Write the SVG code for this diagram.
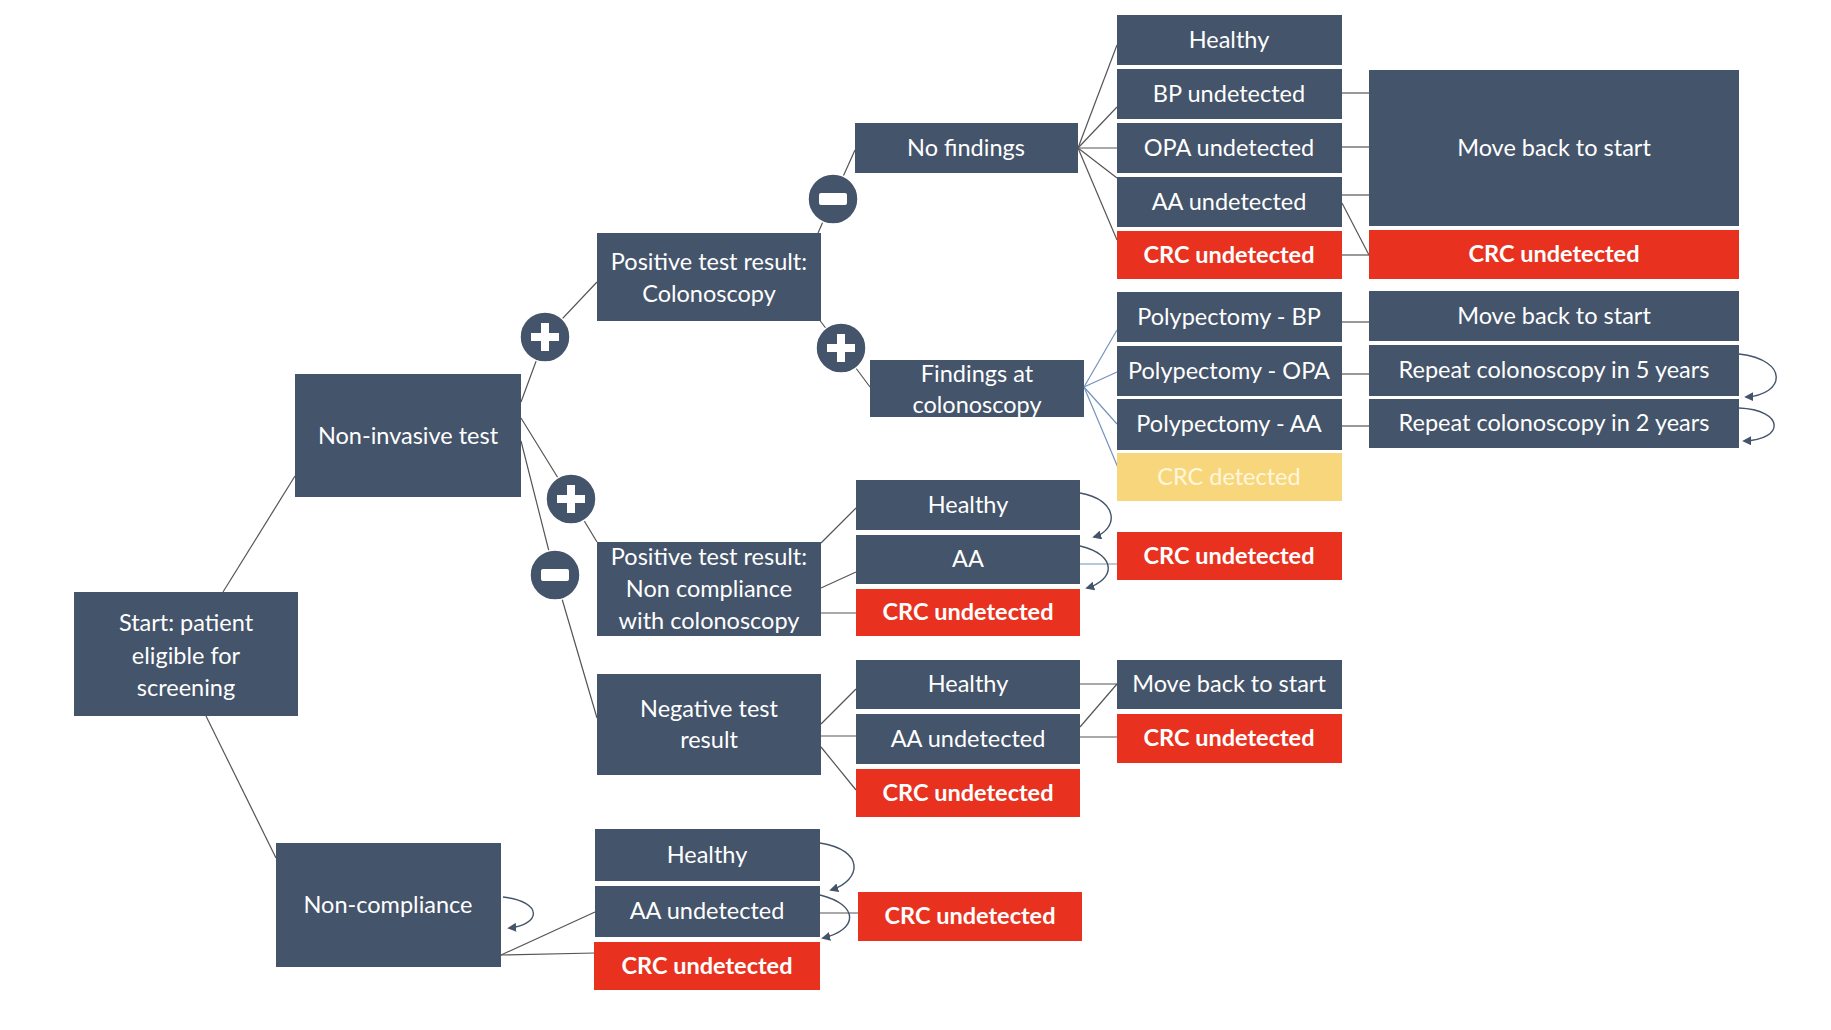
<svg xmlns="http://www.w3.org/2000/svg" width="1831" height="1030" viewBox="0 0 1831 1030">
<style>
.n{fill:#44546A}
.r{fill:#E8321F}
.y{fill:#F8D77C}
.t{font-family:Lato,"Open Sans","Liberation Sans",sans-serif;font-size:23.5px;fill:#fff;text-anchor:middle}
.b{font-weight:bold}
.ty{fill:#FFF6DC}
.c{stroke:#555;stroke-width:1.2;fill:none}
.cb{stroke:#7393BC;stroke-width:1.2;fill:none}
.lp{stroke:#44546A;stroke-width:1.4;fill:none;marker-end:url(#ah)}
.circ{fill:#44546A;stroke:#fff;stroke-width:1.5}
.sym{fill:#fff}
</style>
<defs>
<marker id="ah" viewBox="0 0 10 10" refX="8" refY="5" markerWidth="9" markerHeight="9" orient="auto" markerUnits="userSpaceOnUse">
<path d="M0,0 L10,5 L0,10 z" fill="#44546A"/>
</marker>
</defs>
<rect width="1831" height="1030" fill="#fff"/>
<g id="connectors">
<line class="c" x1="223" y1="592" x2="295" y2="476"/>
<line class="c" x1="206" y1="716" x2="276" y2="858"/>
<polyline class="c" points="521,402 545,337 597,282"/>
<polyline class="c" points="521,418 571,499 597,542"/>
<polyline class="c" points="521,441 555,575 597,718"/>
<polyline class="c" points="818,233 833,199 855,150"/>
<polyline class="c" points="818,318 841,348 870,387"/>
<line class="c" x1="1078" y1="148" x2="1117" y2="45"/>
<line class="c" x1="1078" y1="148" x2="1117" y2="107"/>
<line class="c" x1="1078" y1="148" x2="1117" y2="148"/>
<line class="c" x1="1078" y1="148" x2="1117" y2="178"/>
<line class="c" x1="1078" y1="148" x2="1117" y2="240"/>
<line class="cb" x1="1084" y1="387" x2="1117" y2="330"/>
<line class="cb" x1="1084" y1="387" x2="1117" y2="372"/>
<line class="cb" x1="1084" y1="387" x2="1117" y2="424"/>
<line class="cb" x1="1084" y1="387" x2="1119" y2="470"/>
<line class="c" x1="1342" y1="93" x2="1369" y2="93"/>
<line class="c" x1="1342" y1="147" x2="1369" y2="147"/>
<line class="c" x1="1342" y1="195" x2="1369" y2="195"/>
<line class="c" x1="1342" y1="203" x2="1369" y2="255"/>
<line class="c" x1="1342" y1="255" x2="1369" y2="255"/>
<line class="c" x1="1342" y1="322" x2="1369" y2="322"/>
<line class="c" x1="1342" y1="374" x2="1369" y2="374"/>
<line class="c" x1="1342" y1="426" x2="1369" y2="426"/>
<line class="c" x1="821" y1="543" x2="856" y2="508"/>
<line class="c" x1="821" y1="588" x2="856" y2="572"/>
<line class="c" x1="821" y1="613" x2="856" y2="613"/>
<line class="cb" x1="1080" y1="564" x2="1117" y2="564"/>
<line class="c" x1="821" y1="724" x2="856" y2="689"/>
<line class="c" x1="821" y1="736" x2="856" y2="736"/>
<line class="c" x1="821" y1="747" x2="856" y2="790"/>
<line class="c" x1="1080" y1="684" x2="1117" y2="684"/>
<line class="c" x1="1080" y1="727" x2="1117" y2="684"/>
<line class="c" x1="1080" y1="737" x2="1117" y2="737"/>
<line class="c" x1="501" y1="955" x2="595" y2="912"/>
<line class="c" x1="501" y1="955" x2="595" y2="953"/>
<line class="c" x1="820" y1="913" x2="858" y2="913"/>
<path class="lp" d="M1739,354 C1790,360 1785,395 1746,397"/>
<path class="lp" d="M1739,408 C1785,410 1785,440 1744,441"/>
<path class="lp" d="M1080,493 C1120,500 1118,530 1094,537"/>
<path class="lp" d="M1080,546 C1118,555 1115,580 1087,588"/>
<path class="lp" d="M503,897 C545,902 540,925 509,928"/>
<path class="lp" d="M820,843 C865,850 862,880 831,890"/>
<path class="lp" d="M820,895 C860,905 858,930 823,938"/>
</g>
<g id="signs">
<g id="plus1"><circle class="circ" cx="545" cy="337" r="25"/><rect class="sym" x="531" y="333" width="28" height="8"/><rect class="sym" x="541" y="323" width="8" height="28"/></g>
<g id="minus1"><circle class="circ" cx="833" cy="199" r="25"/><rect class="sym" x="819" y="193" width="28" height="12" rx="2"/></g>
<g id="plus2"><circle class="circ" cx="841" cy="348" r="25"/><rect class="sym" x="827" y="344" width="28" height="8"/><rect class="sym" x="837" y="334" width="8" height="28"/></g>
<g id="plus3"><circle class="circ" cx="571" cy="499" r="25"/><rect class="sym" x="557" y="495" width="28" height="8"/><rect class="sym" x="567" y="485" width="8" height="28"/></g>
<g id="minus2"><circle class="circ" cx="555" cy="575" r="25"/><rect class="sym" x="541" y="569" width="28" height="12" rx="2"/></g>
</g>
<g id="start"><rect class="n" x="74" y="592" width="224" height="124"/><text class="t" x="186" y="631">Start: patient</text><text class="t" x="186" y="664">eligible for</text><text class="t" x="186" y="696">screening</text></g>
<g id="noninvasive"><rect class="n" x="295" y="374" width="226" height="123"/><text class="t" x="408" y="444">Non-invasive test</text></g>
<g id="noncompliance"><rect class="n" x="276" y="843" width="225" height="124"/><text class="t" x="388" y="913">Non-compliance</text></g>
<g id="poscol"><rect class="n" x="597" y="233" width="224" height="88"/><text class="t" x="709" y="270">Positive test result:</text><text class="t" x="709" y="302">Colonoscopy</text></g>
<g id="posnc"><rect class="n" x="597" y="542" width="224" height="94"/><text class="t" x="709" y="565">Positive test result:</text><text class="t" x="709" y="597">Non compliance</text><text class="t" x="709" y="629">with colonoscopy</text></g>
<g id="negative"><rect class="n" x="597" y="674" width="224" height="101"/><text class="t" x="709" y="717">Negative test</text><text class="t" x="709" y="748">result</text></g>
<g id="nofindings"><rect class="n" x="855" y="123" width="223" height="50"/><text class="t" x="966" y="156">No findings</text></g>
<g id="findings"><rect class="n" x="870" y="360" width="214" height="57"/><text class="t" x="977" y="382">Findings at</text><text class="t" x="977" y="413">colonoscopy</text></g>
<g id="healthy1"><rect class="n" x="1117" y="15" width="225" height="50"/><text class="t" x="1229" y="48">Healthy</text></g>
<g id="bp"><rect class="n" x="1117" y="69" width="225" height="50"/><text class="t" x="1229" y="102">BP undetected</text></g>
<g id="opa"><rect class="n" x="1117" y="123" width="225" height="50"/><text class="t" x="1229" y="156">OPA undetected</text></g>
<g id="aa1"><rect class="n" x="1117" y="177" width="225" height="50"/><text class="t" x="1229" y="210">AA undetected</text></g>
<g id="crc1"><rect class="r" x="1117" y="231" width="225" height="48"/><text class="t b" x="1229" y="263">CRC undetected</text></g>
<g id="pbp"><rect class="n" x="1117" y="292" width="225" height="50"/><text class="t" x="1229" y="325">Polypectomy - BP</text></g>
<g id="popa"><rect class="n" x="1117" y="346" width="225" height="50"/><text class="t" x="1229" y="379">Polypectomy - OPA</text></g>
<g id="paa"><rect class="n" x="1117" y="399" width="225" height="51"/><text class="t" x="1229" y="432">Polypectomy - AA</text></g>
<g id="crcdet"><rect class="y" x="1117" y="453" width="225" height="48"/><text class="t ty" x="1229" y="485">CRC detected</text></g>
<g id="crc2"><rect class="r" x="1117" y="532" width="225" height="48"/><text class="t b" x="1229" y="564">CRC undetected</text></g>
<g id="mbs3"><rect class="n" x="1117" y="660" width="225" height="49"/><text class="t" x="1229" y="692">Move back to start</text></g>
<g id="crc3"><rect class="r" x="1117" y="714" width="225" height="49"/><text class="t b" x="1229" y="746">CRC undetected</text></g>
<g id="healthy2"><rect class="n" x="856" y="480" width="224" height="50"/><text class="t" x="968" y="513">Healthy</text></g>
<g id="aa2"><rect class="n" x="856" y="535" width="224" height="49"/><text class="t" x="968" y="567">AA</text></g>
<g id="crc4"><rect class="r" x="856" y="589" width="224" height="47"/><text class="t b" x="968" y="620">CRC undetected</text></g>
<g id="healthy3"><rect class="n" x="856" y="660" width="224" height="49"/><text class="t" x="968" y="692">Healthy</text></g>
<g id="aau3"><rect class="n" x="856" y="714" width="224" height="50"/><text class="t" x="968" y="747">AA undetected</text></g>
<g id="crc5"><rect class="r" x="856" y="769" width="224" height="48"/><text class="t b" x="968" y="801">CRC undetected</text></g>
<g id="crc6"><rect class="r" x="858" y="892" width="224" height="49"/><text class="t b" x="970" y="924">CRC undetected</text></g>
<g id="healthy4"><rect class="n" x="595" y="829" width="225" height="52"/><text class="t" x="707" y="863">Healthy</text></g>
<g id="aau4"><rect class="n" x="595" y="886" width="225" height="51"/><text class="t" x="707" y="919">AA undetected</text></g>
<g id="crc7"><rect class="r" x="594" y="942" width="226" height="48"/><text class="t b" x="707" y="974">CRC undetected</text></g>
<g id="mbs1"><rect class="n" x="1369" y="70" width="370" height="156"/><text class="t" x="1554" y="156">Move back to start</text></g>
<g id="crc8"><rect class="r" x="1369" y="230" width="370" height="49"/><text class="t b" x="1554" y="262">CRC undetected</text></g>
<g id="mbs2"><rect class="n" x="1369" y="291" width="370" height="50"/><text class="t" x="1554" y="324">Move back to start</text></g>
<g id="r5"><rect class="n" x="1369" y="345" width="370" height="51"/><text class="t" x="1554" y="378">Repeat colonoscopy in 5 years</text></g>
<g id="r2"><rect class="n" x="1369" y="399" width="370" height="49"/><text class="t" x="1554" y="431">Repeat colonoscopy in 2 years</text></g>
</svg>
